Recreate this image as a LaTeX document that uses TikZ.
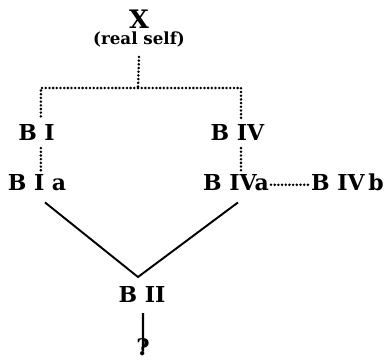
\documentclass[tikz,border=0pt]{standalone}
\usepackage{amssymb}
\usepackage{amsmath}
\usepackage{fontspec}
\setmainfont{DejaVu Serif}
\usepackage{tikz}

\begin{document}
\begin{tikzpicture}[
    lbl/.style={inner sep=1pt, anchor=base, font=\fontsize{12.5}{15}\selectfont\bfseries},
    dotline/.style={line width=1.6pt, line cap=round, dash pattern=on 0pt off 2.1pt},
    solidline/.style={line width=1.1pt}
  ]
           \useasboundingbox (0,0) rectangle (7.8,-7.18);

           % Toppen X
           \node[lbl, font=\fontsize{14.5}{16}\selectfont\bfseries] (x) at (2.78,-0.56) {X};
           \node[lbl, font=\fontsize{9.5}{11}\selectfont\bfseries, inner sep=0pt] (rs) at (2.78,-0.88) {(real self)};
           \coordinate (j) at (2.76,-1.76);

           % Venstre gren
           \node[lbl] (b1) at (0.73,-2.80) {B I};
           \node[lbl] (b1a) at (0.74,-3.80) {B I a};

           % Hoyre gren
           \node[lbl] (b4) at (4.75,-2.80) {B IV};
           \node[lbl] (b4a) at (4.72,-3.80) {B IVa};
           \node[lbl] (b4b) at (6.95,-3.80) {B IV\,b};

           % Bunnen
           \coordinate (v) at (2.76,-5.54);
           \node[lbl] (b2) at (2.84,-6.04) {B II};
           \node[lbl, font=\fontsize{13}{15}\selectfont\bfseries, inner sep=0pt] (q) at (2.86,-7.10) {?};

           % Prikkede linjer
           \draw[dotline] ([yshift=-0.2cm]rs.south) -- (j);
           \draw[dotline] (j) -| ([xshift=2.5pt,yshift=2pt]b1.north);
           \draw[dotline] (j) -| ([xshift=2pt,yshift=2pt]b4.north);
           \draw[dotline] ([xshift=2.5pt,yshift=-0.12cm]b1.south) -- ([xshift=2.5pt]b1.south |- b1a.north);
           \draw[dotline] ([xshift=2pt,yshift=-0.12cm]b4.south) -- ([xshift=2pt]b4.south |- b4a.north);
           \draw[dotline] ([yshift=-1.5pt]b4a.east) -- ([yshift=-1.5pt]b4a.east -| b4b.west);

           % Heltrukne linjer
           \draw[solidline] ([shift={(0.16,-0.2)}]b1a.south) -- (v) -- ([shift={(0.04,-0.2)}]b4a.south);
           \draw[line width=1.4pt] ([shift={(0.02,-0.18)}]b2.south) -- ([yshift=-0.28cm]q.north);
         \end{tikzpicture}
\end{document}
